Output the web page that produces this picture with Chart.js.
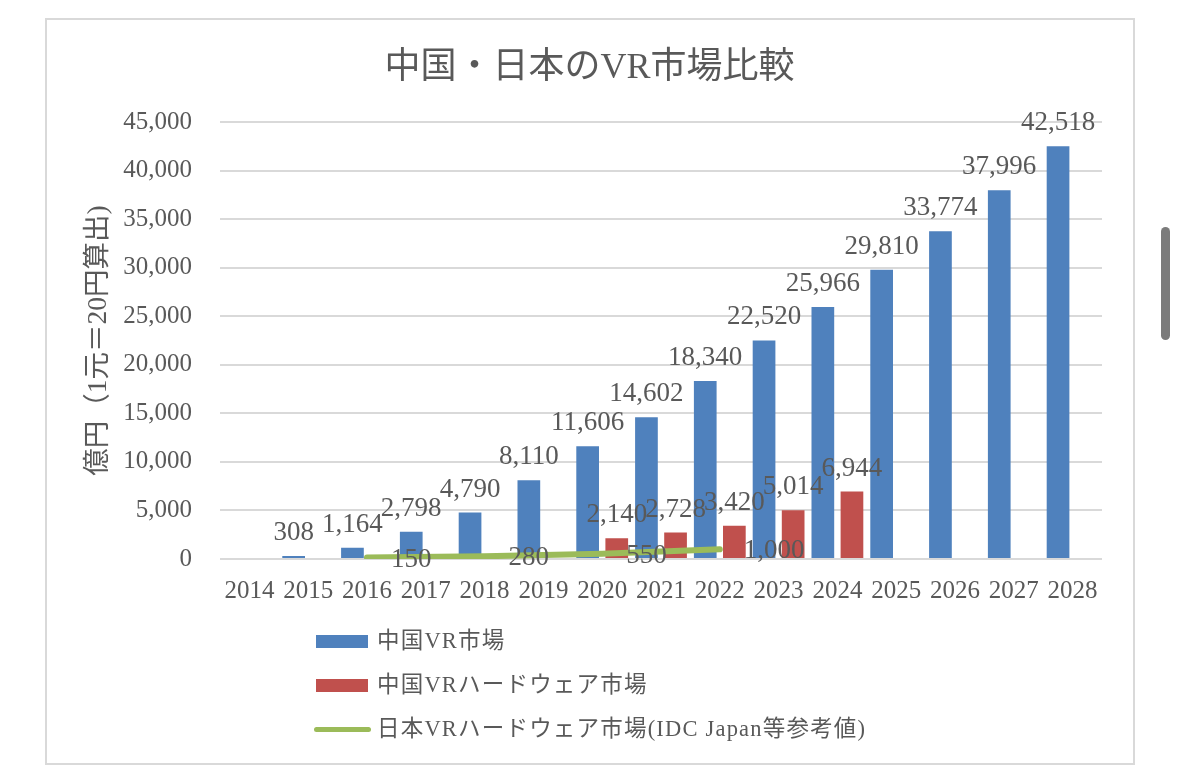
<!DOCTYPE html>
<html>
<head>
<meta charset="utf-8">
<script src="https://cdn.jsdelivr.net/npm/chart.js@4.4.1/dist/chart.umd.min.js"></script>
<style>
  html, body { margin: 0; padding: 0; background: #ffffff; }
  body { width: 1179px; height: 769px; position: relative; overflow: hidden; }
  #frame { position: absolute; left: 45px; top: 18px; width: 1086px; height: 743px; border: 2px solid #d9d9d9; }
  #c { position: absolute; left: 0; top: 0; }
  #scroll { position: absolute; left: 1161px; top: 227px; width: 9px; height: 113px; border-radius: 5px; background: #7b7b7b; }
  #legend { position: absolute; left: 0; top: 0; font-family: "Liberation Serif", "Noto Sans CJK JP", serif; font-size: 22.5px; letter-spacing: 1.2px; color: #595959; }
  .li { position: absolute; height: 30px; white-space: nowrap; }
  .sw { position: absolute; }
  .tx { position: absolute; left: 377px; line-height: 30px; top: 0; }
</style>
</head>
<body>
<div id="frame"></div>
<canvas id="c" width="1179" height="769"></canvas>
<div id="legend"></div>
<div id="scroll"></div>
<script>
const titleText = "中国・日本のVR市場比較";
const yAxisTitle = "億円（1元＝20円算出)";
const years = ["2014","2015","2016","2017","2018","2019","2020","2021","2022","2023","2024","2025","2026","2027","2028"];
const chinaVR = [null, 308, 1164, 2798, 4790, 8110, 11606, 14602, 18340, 22520, 25966, 29810, 33774, 37996, 42518];
const chinaHW = [null, null, null, null, null, null, 2140, 2728, 3420, 5014, 6944, null, null, null, null];
const japanHW = [null, null, 150, null, 280, null, 550, null, 1000, null, null, null, null, null, null];
const seriesNames = ["中国VR市場", "中国VRハードウェア市場", "日本VRハードウェア市場(IDC Japan等参考値)"];
const seriesColors = ["#4F81BD", "#C0504D", "#9BBB59"];
const yTicks = { min: 0, max: 45000, step: 5000 };

const FONT = '"Liberation Serif", "Noto Sans CJK JP", serif';
const TXT = '#595959';

const valueLabels = {
  id: 'valueLabels',
  afterDatasetsDraw(chart) {
    const ctx = chart.ctx;
    ctx.save();
    ctx.font = '27px ' + FONT;
    ctx.fillStyle = TXT;
    chart.data.datasets.forEach((ds, i) => {
      const meta = chart.getDatasetMeta(i);
      meta.data.forEach((el, j) => {
        const v = ds.data[j];
        if (v == null) return;
        const txt = v.toLocaleString('en-US');
        if (meta.type === 'bar') {
          ctx.textAlign = 'center';
          ctx.textBaseline = 'alphabetic';
          ctx.fillText(txt, el.x, el.y - 16);
        } else {
          ctx.textAlign = 'left';
          ctx.textBaseline = 'middle';
          ctx.fillText(txt, el.x + 24, el.y + 2);
        }
      });
    });
    ctx.restore();
  }
};

const chart = new Chart(document.getElementById('c'), {
  type: 'bar',
  data: {
    labels: years,
    datasets: [
      { type: 'bar', label: seriesNames[0], data: chinaVR, backgroundColor: seriesColors[0], order: 2,
        categoryPercentage: 0.99, barPercentage: 0.78 },
      { type: 'bar', label: seriesNames[1], data: chinaHW, backgroundColor: seriesColors[1], order: 2,
        categoryPercentage: 0.99, barPercentage: 0.78 },
      { type: 'line', label: seriesNames[2], data: japanHW, borderColor: seriesColors[2], backgroundColor: seriesColors[2],
        borderWidth: 6, borderCapStyle: 'round', pointRadius: 0, tension: 0, spanGaps: true, fill: false, order: 0 }
    ]
  },
  options: {
    responsive: false,
    animation: false,
    devicePixelRatio: 1,
    layout: { padding: { left: 45, right: 45, top: 0, bottom: 160 } },
    plugins: {
      legend: { display: false },
      tooltip: { enabled: false },
      title: {
        display: true, text: titleText, color: TXT,
        font: { family: FONT, size: 36, weight: 'normal' },
        padding: { top: 47, bottom: 32 }
      }
    },
    scales: {
      x: {
        grid: { display: false },
        border: { display: false },
        ticks: { color: TXT, font: { family: FONT, size: 25 }, padding: 9, autoSkip: false, maxRotation: 0, minRotation: 0 },
        afterFit(s) { s.height = 50; }
      },
      y: {
        position: 'left',
        min: yTicks.min, max: yTicks.max,
        grid: { color: '#d9d9d9', lineWidth: 2, drawTicks: false },
        border: { display: false },
        ticks: { stepSize: yTicks.step, color: TXT, font: { family: FONT, size: 25 }, padding: 28 },
        title: { display: true, text: yAxisTitle, color: TXT, font: { family: FONT, size: 27.5 }, padding: { top: 37, bottom: 0 } },
        afterFit(s) { s.width = 175; }
      },
      yR: {
        position: 'right',
        display: true,
        grid: { display: false },
        border: { display: false },
        ticks: { display: false },
        afterFit(s) { s.width = 32; }
      }
    }
  },
  plugins: [valueLabels]
});

// HTML legend built from the datasets
const leg = document.getElementById('legend');
const rowCenters = [641, 685, 729];
chart.data.datasets.forEach((ds, i) => {
  const row = document.createElement('div');
  row.className = 'li';
  row.style.top = (rowCenters[i] - 15) + 'px';
  row.style.left = '0px';
  const sw = document.createElement('div');
  sw.className = 'sw';
  if (ds.type === 'line') {
    sw.style.left = '314px'; sw.style.width = '57px'; sw.style.height = '5px'; sw.style.top = '12.5px';
    sw.style.borderRadius = '3px';
  } else {
    sw.style.left = '316px'; sw.style.width = '52px'; sw.style.height = '13px'; sw.style.top = '8.5px';
  }
  sw.style.background = ds.type === 'line' ? ds.borderColor : ds.backgroundColor;
  const tx = document.createElement('div');
  tx.className = 'tx';
  tx.textContent = ds.label;
  row.appendChild(sw);
  row.appendChild(tx);
  leg.appendChild(row);
});
</script>
</body>
</html>
